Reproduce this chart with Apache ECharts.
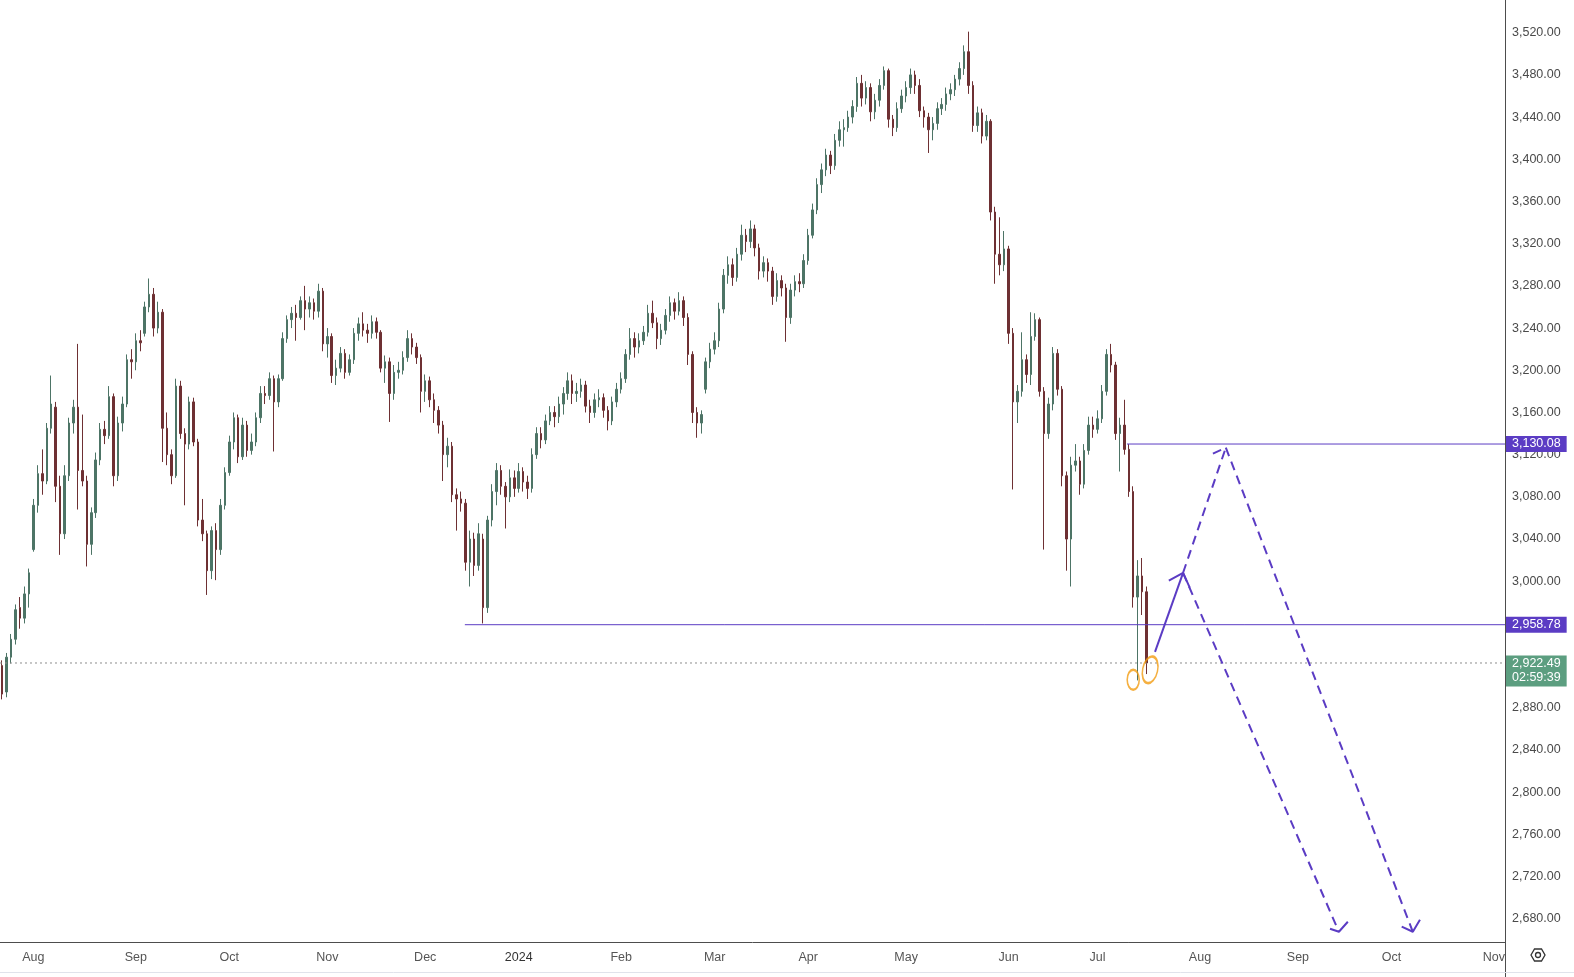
<!DOCTYPE html>
<html>
<head>
<meta charset="utf-8">
<title>Index chart</title>
<script src="https://cdn.jsdelivr.net/npm/echarts@6/dist/echarts.min.js"></script>
<style>
  html, body { margin: 0; padding: 0; background: #fff; }
  #chart { width: 1574px; height: 977px; }
</style>
</head>
<body>
<div id="chart"></div>
<script>
// daily bars, each row is [open, close, low, high]
const candles = [
  [2920, 2893, 2888, 2925], [2895, 2928, 2890, 2932], [2928, 2945, 2922, 2950], [2945, 2973, 2940, 2978], [2975, 2965, 2955, 2985],
  [2965, 2988, 2960, 2995], [2988, 3008, 2975, 3012], [3030, 3072, 3028, 3078], [3072, 3102, 3065, 3110], [3102, 3095, 3082, 3125],
  [3095, 3145, 3092, 3150], [3145, 3168, 3140, 3195], [3165, 3090, 3075, 3170], [3090, 3045, 3025, 3100], [3045, 3100, 3040, 3110],
  [3100, 3150, 3095, 3155], [3150, 3165, 3140, 3172], [3165, 3105, 3068, 3225], [3105, 3095, 3090, 3158], [3095, 3035, 3014, 3100],
  [3035, 3065, 3025, 3070], [3065, 3115, 3060, 3122], [3115, 3144, 3110, 3150], [3144, 3138, 3130, 3152], [3138, 3175, 3135, 3185],
  [3175, 3100, 3090, 3178], [3100, 3150, 3095, 3156], [3150, 3168, 3142, 3175], [3168, 3210, 3165, 3215], [3210, 3208, 3192, 3220],
  [3208, 3228, 3200, 3235], [3228, 3226, 3218, 3238], [3235, 3260, 3232, 3265], [3260, 3272, 3255, 3287], [3272, 3240, 3232, 3278],
  [3240, 3255, 3235, 3265], [3255, 3145, 3113, 3258], [3145, 3120, 3110, 3160], [3120, 3100, 3092, 3125], [3100, 3185, 3098, 3192],
  [3185, 3140, 3135, 3190], [3140, 3130, 3072, 3145], [3130, 3170, 3125, 3175], [3170, 3132, 3128, 3174], [3132, 3058, 3052, 3135],
  [3058, 3045, 3038, 3078], [3045, 3010, 2987, 3048], [3010, 3048, 3002, 3052], [3048, 3030, 3001, 3055], [3030, 3072, 3025, 3078],
  [3072, 3103, 3068, 3108], [3103, 3132, 3100, 3138], [3132, 3155, 3125, 3160], [3155, 3118, 3112, 3158], [3118, 3148, 3115, 3155],
  [3148, 3124, 3118, 3152], [3124, 3132, 3120, 3140], [3132, 3155, 3128, 3160], [3155, 3178, 3150, 3185], [3178, 3176, 3168, 3185],
  [3176, 3192, 3172, 3198], [3192, 3170, 3123, 3195], [3170, 3192, 3165, 3196], [3192, 3230, 3190, 3236], [3230, 3248, 3226, 3252],
  [3248, 3254, 3240, 3260], [3254, 3250, 3228, 3262], [3250, 3266, 3248, 3270], [3266, 3258, 3238, 3280], [3258, 3264, 3250, 3270],
  [3264, 3256, 3248, 3268], [3256, 3275, 3250, 3282], [3275, 3225, 3218, 3278], [3225, 3232, 3212, 3240], [3232, 3195, 3188, 3235],
  [3195, 3202, 3186, 3210], [3202, 3216, 3198, 3222], [3216, 3198, 3192, 3220], [3198, 3210, 3195, 3215], [3210, 3235, 3206, 3240],
  [3235, 3244, 3228, 3250], [3244, 3238, 3232, 3255], [3238, 3235, 3226, 3244], [3235, 3246, 3230, 3252], [3246, 3236, 3230, 3250],
  [3236, 3202, 3198, 3238], [3202, 3208, 3188, 3214], [3208, 3178, 3151, 3212], [3178, 3198, 3172, 3205], [3198, 3200, 3192, 3208],
  [3200, 3212, 3196, 3218], [3212, 3230, 3208, 3238], [3230, 3222, 3215, 3235], [3222, 3212, 3206, 3226], [3212, 3180, 3160, 3215],
  [3180, 3190, 3170, 3196], [3190, 3172, 3165, 3194], [3172, 3162, 3150, 3178], [3162, 3148, 3140, 3166], [3148, 3120, 3095, 3152],
  [3120, 3128, 3108, 3136], [3128, 3082, 3075, 3132], [3082, 3078, 3048, 3088], [3078, 3074, 3066, 3085], [3074, 3018, 3010, 3078],
  [3018, 3040, 2995, 3048], [3040, 3015, 3005, 3046], [3015, 3045, 3010, 3055], [3040, 2975, 2960, 3045], [2975, 3058, 2970, 3062],
  [3058, 3085, 3052, 3092], [3085, 3105, 3072, 3112], [3105, 3090, 3082, 3110], [3090, 3080, 3050, 3094], [3080, 3098, 3075, 3106],
  [3098, 3088, 3080, 3105], [3088, 3104, 3084, 3112], [3104, 3094, 3085, 3108], [3094, 3088, 3078, 3100], [3088, 3120, 3084, 3126],
  [3120, 3140, 3116, 3146], [3140, 3134, 3126, 3146], [3134, 3152, 3130, 3158], [3152, 3160, 3148, 3166], [3160, 3156, 3146, 3166],
  [3156, 3168, 3150, 3175], [3168, 3178, 3158, 3184], [3178, 3190, 3172, 3198], [3190, 3178, 3168, 3196], [3178, 3180, 3170, 3188],
  [3180, 3186, 3174, 3192], [3186, 3166, 3160, 3190], [3166, 3160, 3150, 3172], [3160, 3172, 3155, 3178], [3172, 3174, 3165, 3182],
  [3174, 3162, 3155, 3178], [3162, 3152, 3143, 3166], [3152, 3170, 3148, 3175], [3170, 3182, 3165, 3188], [3182, 3192, 3178, 3198],
  [3192, 3215, 3188, 3220], [3215, 3230, 3210, 3240], [3230, 3222, 3212, 3236], [3222, 3228, 3216, 3235], [3228, 3236, 3224, 3242],
  [3236, 3254, 3232, 3262], [3254, 3245, 3240, 3266], [3245, 3230, 3220, 3250], [3230, 3238, 3224, 3244], [3238, 3252, 3234, 3258],
  [3252, 3264, 3246, 3270], [3264, 3256, 3248, 3268], [3256, 3266, 3252, 3274], [3266, 3250, 3242, 3270], [3250, 3215, 3205, 3254],
  [3215, 3160, 3150, 3218], [3160, 3150, 3136, 3165], [3150, 3158, 3140, 3162], [3182, 3208, 3178, 3212], [3208, 3220, 3202, 3226],
  [3220, 3228, 3215, 3236], [3228, 3258, 3222, 3264], [3258, 3290, 3254, 3296], [3290, 3300, 3282, 3308], [3300, 3288, 3280, 3306],
  [3288, 3310, 3284, 3316], [3310, 3328, 3304, 3338], [3328, 3322, 3312, 3334], [3322, 3334, 3316, 3342], [3334, 3316, 3308, 3338],
  [3316, 3294, 3286, 3320], [3294, 3302, 3288, 3308], [3302, 3294, 3284, 3306], [3294, 3270, 3262, 3298], [3270, 3285, 3265, 3292],
  [3285, 3278, 3270, 3290], [3278, 3250, 3227, 3282], [3250, 3276, 3244, 3282], [3276, 3284, 3270, 3290], [3284, 3282, 3274, 3292],
  [3282, 3304, 3278, 3310], [3304, 3328, 3300, 3334], [3328, 3352, 3325, 3358], [3352, 3376, 3348, 3382], [3376, 3390, 3368, 3396],
  [3390, 3404, 3384, 3410], [3404, 3394, 3386, 3408], [3394, 3418, 3390, 3424], [3418, 3428, 3412, 3436], [3428, 3430, 3412, 3438],
  [3430, 3440, 3426, 3446], [3440, 3450, 3434, 3456], [3450, 3472, 3445, 3478], [3472, 3458, 3450, 3480], [3458, 3468, 3452, 3474],
  [3468, 3445, 3436, 3472], [3445, 3456, 3438, 3462], [3456, 3470, 3450, 3476], [3470, 3484, 3466, 3488], [3484, 3438, 3430, 3486],
  [3438, 3430, 3422, 3442], [3430, 3448, 3426, 3454], [3448, 3460, 3444, 3466], [3460, 3468, 3454, 3474], [3468, 3480, 3462, 3486],
  [3480, 3470, 3462, 3484], [3470, 3446, 3440, 3476], [3446, 3440, 3430, 3450], [3440, 3428, 3406, 3444], [3428, 3434, 3418, 3440],
  [3434, 3448, 3428, 3454], [3448, 3452, 3442, 3458], [3452, 3462, 3446, 3468], [3462, 3466, 3456, 3472], [3466, 3476, 3460, 3480],
  [3476, 3486, 3470, 3492], [3486, 3502, 3480, 3508], [3502, 3470, 3462, 3521], [3470, 3432, 3426, 3474], [3432, 3444, 3426, 3450],
  [3444, 3422, 3415, 3448], [3422, 3436, 3418, 3442], [3436, 3350, 3342, 3438], [3350, 3310, 3282, 3355], [3310, 3300, 3290, 3345],
  [3300, 3315, 3294, 3332], [3315, 3235, 3225, 3318], [3235, 3170, 3087, 3240], [3170, 3180, 3150, 3186], [3180, 3210, 3175, 3236],
  [3210, 3196, 3188, 3215], [3196, 3232, 3186, 3255], [3232, 3248, 3228, 3254], [3248, 3180, 3175, 3250], [3180, 3140, 3030, 3184],
  [3140, 3168, 3135, 3174], [3168, 3216, 3162, 3222], [3216, 3182, 3176, 3220], [3182, 3100, 3090, 3185], [3100, 3040, 3010, 3104],
  [3040, 3110, 2995, 3118], [3110, 3114, 3104, 3130], [3114, 3092, 3082, 3118], [3092, 3124, 3088, 3130], [3124, 3148, 3120, 3156],
  [3148, 3144, 3136, 3156], [3144, 3154, 3140, 3162], [3154, 3180, 3150, 3186], [3180, 3215, 3176, 3220], [3215, 3205, 3198, 3225],
  [3205, 3140, 3134, 3208], [3140, 3148, 3104, 3155], [3148, 3125, 3120, 3172], [3125, 3085, 3080, 3130], [3085, 2985, 2975, 3090],
  [2985, 3005, 2906, 3020], [3005, 2990, 2968, 3022], [2990, 2922.49, 2912, 2995]
];

const firstDay = '2023-07-21';
const slotCount = 338;          // trading-day slots on the time scale, incl. the empty future part
const monthNames = ['Jan', 'Feb', 'Mar', 'Apr', 'May', 'Jun', 'Jul', 'Aug', 'Sep', 'Oct', 'Nov', 'Dec'];
const priceTicks = [2680, 2720, 2760, 2800, 2840, 2880, 2920, 2960, 3000, 3040, 3080, 3120,
                    3160, 3200, 3240, 3280, 3320, 3360, 3400, 3440, 3480, 3520];

const supportLevel = 2958.78;
const resistLevel = 3130.08;
const lastPrice = 2922.49;
const countdown = '02:59:39';

// hand drawn path: [slot, price]
const arrowUp = [[258.9, 2933], [265.2, 3008]];
const arrowUpHead = [[262.0, 3000.5], [265.2, 3008], [266.7, 2994]];
const dashUp = [[265.2, 3008], [274.8, 3126.6]];
const dashUpHead = [[271.9, 3121], [274.8, 3126.6]];
const dashDownA = [[274.8, 3126.6], [316.8, 2667.7]];
const dashDownAHead = [[314.3, 2672.5], [316.8, 2667.7], [318.4, 2679]];
const dashDownB = [[265.2, 3008], [300.2, 2667.7]];
const dashDownBHead = [[298.2, 2670.6], [300.2, 2667.7], [302.2, 2677.2]];
const marks = [[254.0, 2906.6], [257.8, 2916]];

// trading days (weekdays) from the first bar
const categories = [];
for (let d = new Date(firstDay + 'T00:00:00Z'); categories.length < slotCount; d.setUTCDate(d.getUTCDate() + 1)) {
  const wd = d.getUTCDay();
  if (wd !== 0 && wd !== 6) categories.push(d.toISOString().slice(0, 10));
}
const isMonthStart = (i) => i > 0 && categories[i].slice(5, 7) !== categories[i - 1].slice(5, 7);

const fmt = (v) => v.toLocaleString('en-US', { minimumFractionDigits: 2, maximumFractionDigits: 2 });
const font = "'Liberation Sans', Arial, sans-serif";
const purple = '#5b3cc4';
const lastSlot = slotCount - 0.5;

const myChart = echarts.init(document.getElementById('chart'));

const drawn = (points, dashed, width) => ({
  type: 'line',
  xAxisIndex: 1,
  data: points,
  symbol: 'none',
  silent: true,
  z: 4,
  lineStyle: { color: purple, width: width, type: dashed ? [9, 6] : 'solid' }
});

const level = (from, value, labelText, bg, lineType, lineColor, extra) => ({
  type: 'line',
  xAxisIndex: 1,
  data: [[from, value], [lastSlot, value]],
  symbol: 'none',
  silent: true,
  z: 3,
  lineStyle: { color: lineColor, width: 1, type: lineType },
  endLabel: Object.assign({
    show: true,
    formatter: () => labelText,
    backgroundColor: bg,
    color: '#fff',
    fontSize: 12.5,
    fontFamily: font,
    padding: [2, 6, 1, 6],
    distance: 1
  }, extra || {})
});

myChart.setOption({
  animation: false,
  backgroundColor: '#fff',
  grid: { left: 0, right: 69, top: 0, bottom: 35 },
  xAxis: [
    {
      type: 'category',
      data: categories,
      boundaryGap: true,
      axisLine: { show: true, onZero: false, lineStyle: { color: '#4d4d4d' } },
      axisTick: { show: false },
      splitLine: { show: false },
      axisLabel: {
        interval: (i) => isMonthStart(i),
        formatter: (v) => {
          const m = +v.slice(5, 7);
          return m === 1 ? '{y|' + v.slice(0, 4) + '}' : monthNames[m - 1];
        },
        rich: { y: { color: '#333', fontSize: 12.5, fontFamily: font } },
        color: '#555',
        fontSize: 12.5,
        fontFamily: font,
        margin: 9
      }
    },
    { type: 'value', min: -0.5, max: lastSlot, show: false, axisLine: { onZero: false } }
  ],
  yAxis: {
    type: 'value',
    position: 'right',
    min: 2658,
    max: 3551,
    splitLine: { show: false },
    axisLine: { show: true, onZero: false, lineStyle: { color: '#4d4d4d' } },
    axisTick: { show: false },
    axisLabel: {
      customValues: priceTicks,
      formatter: (v) => fmt(v),
      color: '#4a4a4a',
      fontSize: 12.5,
      fontFamily: font,
      margin: 7
    }
  },
  series: [
    {
      type: 'candlestick',
      data: candles,
      barWidth: 2,
      z: 2,
      itemStyle: {
        color: '#4d7466',
        color0: '#6e3033',
        borderColor: '#4d7466',
        borderColor0: '#6e3033',
        borderWidth: 1
      }
    },
    level(-0.5, lastPrice, fmt(lastPrice) + '\n' + countdown, '#5c9e80', [2, 3], '#8c8c8c',
      { lineHeight: 14, offset: [0, 8] }),
    level(103.9, supportLevel, fmt(supportLevel), purple, 'solid', purple),
    level(252.6, resistLevel, fmt(resistLevel), purple, 'solid', purple),
    drawn(arrowUp, false, 2),
    drawn(arrowUpHead, false, 2),
    drawn(dashUp, true, 2),
    drawn(dashUpHead, true, 2),
    drawn(dashDownA, true, 2),
    drawn(dashDownAHead, false, 2),
    drawn(dashDownB, true, 2),
    drawn(dashDownBHead, false, 2),
    {
      type: 'scatter',
      xAxisIndex: 1,
      silent: true,
      z: 5,
      symbol: 'circle',
      data: [
        { value: marks[0], symbolSize: [12, 20] },
        { value: marks[1], symbolSize: [15, 27], symbolRotate: -12 }
      ],
      itemStyle: { color: 'rgba(0,0,0,0)', borderColor: '#f39c12', borderWidth: 2 }
    }
  ],
  graphic: [
    { type: 'rect', z: 100, shape: { x: 1506, y: 943, width: 68, height: 29 }, style: { fill: '#fff' } },
    { type: 'line', z: 101, shape: { x1: 1505.5, y1: 942, x2: 1505.5, y2: 977 }, style: { stroke: '#4d4d4d', lineWidth: 1 } },
    { type: 'line', z: 101, shape: { x1: 0, y1: 972.5, x2: 1574, y2: 972.5 }, style: { stroke: '#e0e3eb', lineWidth: 1 } },
    {
      type: 'polygon', z: 102,
      shape: { points: [[1531, 955], [1534.5, 949], [1541.5, 949], [1545, 955], [1541.5, 961], [1534.5, 961]] },
      style: { fill: 'none', stroke: '#333', lineWidth: 1.3 }
    },
    { type: 'circle', z: 102, shape: { cx: 1538, cy: 955, r: 2.5 }, style: { fill: 'none', stroke: '#333', lineWidth: 1.3 } }
  ]
});
</script>
</body>
</html>
